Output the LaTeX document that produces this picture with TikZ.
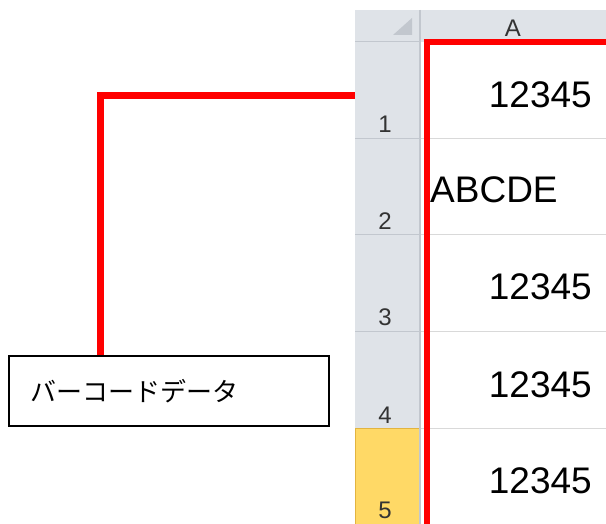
\documentclass[tikz,border=0pt]{standalone}
\usepackage{fontspec}
\setmainfont{Liberation Sans}
\newfontfamily\jpfont{Noto Sans CJK JP}
\definecolor{hdgray}{HTML}{DFE3E8}
\definecolor{hdline}{HTML}{C2C7CE}
\definecolor{gridgray}{HTML}{D9D9D9}
\definecolor{selyellow}{HTML}{FFD966}
\definecolor{selline}{HTML}{E2B440}
\definecolor{xlred}{HTML}{FF0000}
\tikzset{
  redline/.style={xlred,line width=7pt},
  cellnum/.style={anchor=base east,inner sep=0pt,font=\fontsize{37}{37}\selectfont},
  rowno/.style={anchor=base,inner sep=0pt,text=black!80,font=\fontsize{24}{24}\selectfont}
}
\begin{document}
\begin{tikzpicture}[x=1pt,y=-1pt]
    \useasboundingbox (0,0) rectangle (606,524);
    % headers
    \fill[hdgray] (355,10) rectangle (606,42);
    \fill[hdgray] (355,42) rectangle (420,524);
    \fill[hdline] (393,35)--(412,35)--(412,18)--cycle;
    \filldraw[fill=selyellow,draw=selline,line width=1pt] (355.5,428) rectangle (420,524);
    \draw[gridgray,line width=1pt] (420,138.5)--(606,138.5) (420,235)--(606,235) (420,331.5)--(606,331.5) (420,428)--(606,428);
    \draw[hdline,line width=1pt] (355,138.5)--(420,138.5) (355,235)--(420,235) (355,331.5)--(420,331.5) (355,42)--(420,42);
    \draw[hdline,line width=1.5pt] (420,10)--(420,524);
    \node[rowno] (colA) at (513,37) {A};
    \node[rowno] (r1) at (385,133) {1};
    \node[rowno] (r2) at (385,230) {2};
    \node[rowno] (r3) at (385,326) {3};
    \node[rowno] (r4) at (385,423) {4};
    \node[rowno] (r5) at (385,518) {5};
    % cells
    \node[cellnum] (c1) at (592,108) {12345};
    \node[cellnum,anchor=base west] (c2) at (430,203) {ABCDE};
    \node[cellnum] (c3) at (592,300) {12345};
    \node[cellnum] (c4) at (592,397) {12345};
    \node[cellnum] (c5) at (592,493) {12345};
    \draw[redline,line width=6pt] (427,530)--(427,42)--(610,42);
    % label
    \coordinate (hd1) at (355,96);
    \node[draw,line width=1.5pt,anchor=north west,minimum width=320pt,minimum height=70pt,
          text width=276pt,align=left,font=\jpfont\fontsize{26}{26}\selectfont] (note) at (8,355) {バーコードデータ};
    \draw[redline] ([xshift=92pt]note.north west) |- (hd1);
\end{tikzpicture}
\end{document}
